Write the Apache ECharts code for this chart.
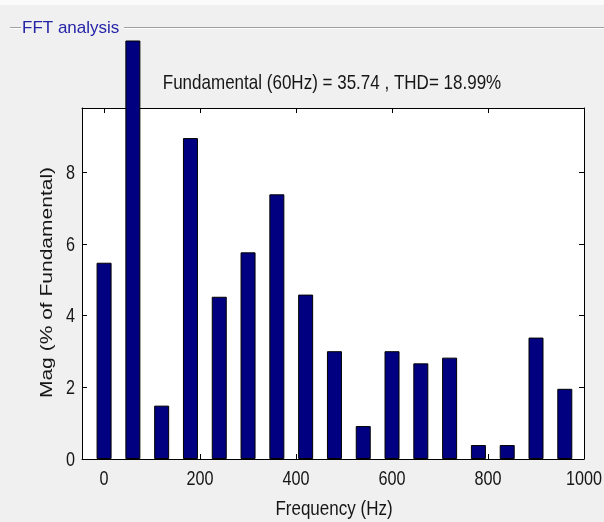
<!DOCTYPE html>
<html>
<head>
<meta charset="utf-8">
<script src="https://cdn.jsdelivr.net/npm/echarts@6/dist/echarts.min.js"></script>
<style>
  html, body { margin: 0; padding: 0; background: #f0f0f0; }
  #chart { width: 604px; height: 522px; }
</style>
</head>
<body>
<div id="chart"></div>
<script>
// Harmonic spectrum (frequency in Hz, magnitude in % of fundamental)
const frequencies = [0, 120, 180, 240, 300, 360, 420, 480, 540, 600, 660, 720, 780, 840, 900, 960];
const magnitudes  = [5.48, 1.49, 8.96, 4.53, 5.77, 7.39, 4.59, 3.01, 0.92, 3.01, 2.67, 2.83, 0.39, 0.39, 3.39, 1.96];
const fundamentalFreq = 60;
const fundamentalMag = 100;
const xTicks = [0, 200, 400, 600, 800, 1000];
const yTicks = [0, 2, 4, 6, 8];
const infoText = 'Fundamental (60Hz) = 35.74 , THD= 18.99%';
const panelTitle = 'FFT analysis';
const xName = 'Frequency (Hz)';
const yName = 'Mag (% of Fundamental)';

const FONT = '"Liberation Sans", Arial, sans-serif';
const SQUEEZE = 0.81;          // condensed look of the panel lettering
const TEXT = '#161616';

const X_MIN = -46, X_MAX = 1000;
const Y_MAX = 9.8;
// plot area geometry
const G = { left: 82, right: 20, top: 108, bottom: 63 };
const plotH = 522 - G.top - G.bottom;
// taller overlay grid, same vertical scale, lets the fundamental bar rise above the box
const overTop = 41;
const overMax = Y_MAX * (522 - G.bottom - overTop) / plotH;

const barStyle = { color: '#000080', borderColor: '#000', borderWidth: 1 };
const frameAxis = (pos) => ({
  axisLine: { show: true, onZero: false, lineStyle: { color: '#000', width: 1 } },
  axisLabel: { show: false },
  splitLine: { show: false },
  position: pos
});

const chart = echarts.init(document.getElementById('chart'));
chart.setOption({
  backgroundColor: '#f0f0f0',
  animation: false,
  grid: [
    { left: G.left, right: G.right, top: G.top, bottom: G.bottom, show: true, backgroundColor: '#fff', borderWidth: 0 },
    { left: G.left, right: G.right, top: overTop, bottom: G.bottom, show: false }
  ],
  xAxis: [
    Object.assign({ gridIndex: 0, type: 'value', min: X_MIN, max: X_MAX,
      axisTick: { show: true, inside: true, length: 5, customValues: xTicks, lineStyle: { color: '#000' } } }, frameAxis('bottom')),
    Object.assign({ gridIndex: 0, type: 'value', min: X_MIN, max: X_MAX,
      axisTick: { show: true, inside: true, length: 5, customValues: xTicks, lineStyle: { color: '#000' } } }, frameAxis('top')),
    { gridIndex: 1, type: 'value', min: X_MIN, max: X_MAX, show: false }
  ],
  yAxis: [
    Object.assign({ gridIndex: 0, type: 'value', min: 0, max: Y_MAX,
      axisTick: { show: true, inside: true, length: 5, customValues: yTicks, lineStyle: { color: '#000' } } }, frameAxis('left')),
    Object.assign({ gridIndex: 0, type: 'value', min: 0, max: Y_MAX,
      axisTick: { show: true, inside: true, length: 5, customValues: yTicks, lineStyle: { color: '#000' } } }, frameAxis('right')),
    { gridIndex: 1, type: 'value', min: 0, max: overMax, show: false }
  ],
  series: [
    {
      type: 'bar', xAxisIndex: 0, yAxisIndex: 0, barWidth: 15,
      data: frequencies.map((f, i) => [f, magnitudes[i]]),
      itemStyle: barStyle, z: 3
    },
    {
      type: 'bar', xAxisIndex: 2, yAxisIndex: 2, barWidth: 15, clip: true,
      data: [[fundamentalFreq, fundamentalMag]],
      itemStyle: barStyle, z: 3
    }
  ]
});

// Condensed text: tick labels placed through the axis scales, then titles.
const px = (v) => chart.convertToPixel({ xAxisIndex: 0 }, v);
const py = (v) => chart.convertToPixel({ yAxisIndex: 0 }, v);
const yBase = py(0);
const xLeft = px(X_MIN);

const graphics = [
  { type: 'rect', shape: { x: 0, y: 0, width: 604, height: 5 }, style: { fill: '#fbfbfb' }, silent: true, z: -1 },
  // etched panel frame
  { type: 'line', shape: { x1: 10, y1: 27.5, x2: 21, y2: 27.5 }, style: { stroke: '#a0a0a0', lineWidth: 1 } },
  { type: 'line', shape: { x1: 10, y1: 28.5, x2: 21, y2: 28.5 }, style: { stroke: '#ffffff', lineWidth: 1 } },
  { type: 'line', shape: { x1: 124, y1: 27.5, x2: 604, y2: 27.5 }, style: { stroke: '#a0a0a0', lineWidth: 1 } },
  { type: 'line', shape: { x1: 124, y1: 28.5, x2: 604, y2: 28.5 }, style: { stroke: '#ffffff', lineWidth: 1 } },
  {
    type: 'text', x: 22, y: 28,
    style: { text: panelTitle, fill: '#2424a8', font: '17px ' + FONT, textAlign: 'left', textVerticalAlign: 'middle' }
  },
  {
    type: 'text', x: 332, y: 83, scaleX: SQUEEZE,
    style: { text: infoText, fill: TEXT, font: '21px ' + FONT, textAlign: 'center', textVerticalAlign: 'middle' }
  },
  {
    type: 'text', x: px((X_MIN + X_MAX) / 2) + 1, y: yBase + 50, scaleX: SQUEEZE,
    style: { text: xName, fill: TEXT, font: '21px ' + FONT, textAlign: 'center', textVerticalAlign: 'middle' }
  },
  {
    type: 'text', x: xLeft - 35, y: py(Y_MAX / 2) - 1, rotation: Math.PI / 2, scaleY: SQUEEZE,
    style: { text: yName, fill: TEXT, font: '21px ' + FONT, textAlign: 'center', textVerticalAlign: 'middle' }
  }
];
xTicks.forEach((v) => graphics.push({
  type: 'text', x: px(v), y: yBase + 20, scaleX: SQUEEZE,
  style: { text: String(v), fill: TEXT, font: '20px ' + FONT, textAlign: 'center', textVerticalAlign: 'middle' }
}));
yTicks.forEach((v) => graphics.push({
  type: 'text', x: xLeft - 7, y: py(v) + 1, scaleX: SQUEEZE,
  style: { text: String(v), fill: TEXT, font: '20px ' + FONT, textAlign: 'right', textVerticalAlign: 'middle' }
}));
chart.setOption({ graphic: graphics });
</script>
</body>
</html>
